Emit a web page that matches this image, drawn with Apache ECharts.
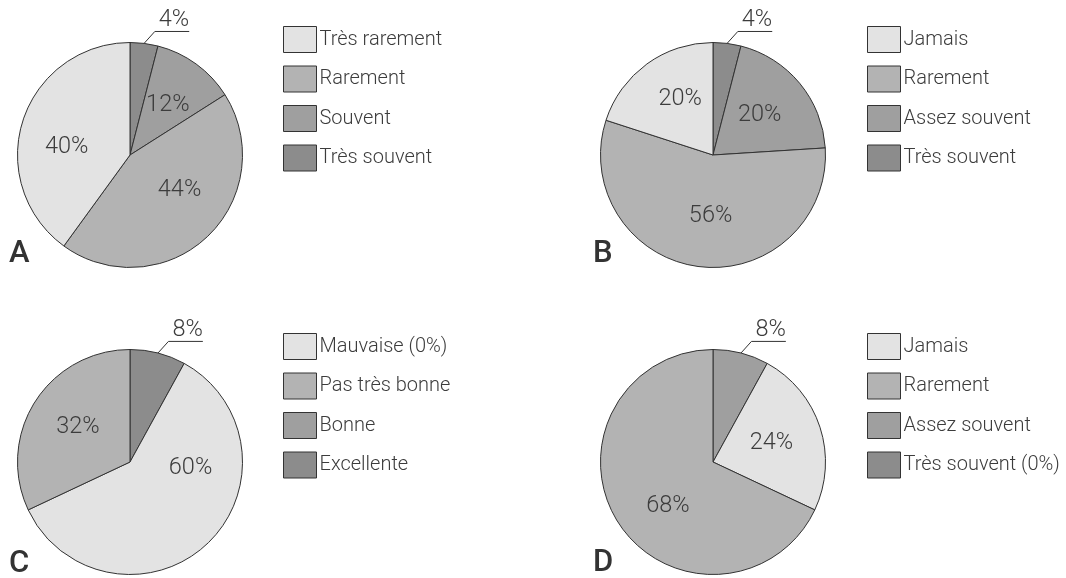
<!DOCTYPE html>
<html>
<head>
<meta charset="utf-8">
<script src="https://cdn.jsdelivr.net/npm/echarts@6/dist/echarts.min.js"></script>
<style>
  html, body { margin: 0; padding: 0; background: #ffffff; }
  #chart { width: 1066px; height: 578px; }
</style>
</head>
<body>
<div id="chart"></div>
<script>
// Panel A: slices listed clockwise from 12 o'clock
const namesA = ['Très souvent', 'Souvent', 'Rarement', 'Très rarement'];
const valuesA = [4, 12, 44, 40];
const legendA = ['Très rarement', 'Rarement', 'Souvent', 'Très souvent'];

// Panel B
const namesB = ['Très souvent', 'Assez souvent', 'Rarement', 'Jamais'];
const valuesB = [4, 20, 56, 20];
const legendB = ['Jamais', 'Rarement', 'Assez souvent', 'Très souvent'];

// Panel C
const namesC = ['Excellente', 'Bonne', 'Pas très bonne', 'Mauvaise (0%)'];
const valuesC = [8, 60, 32, 0];
const legendC = ['Mauvaise (0%)', 'Pas très bonne', 'Bonne', 'Excellente'];

// Panel D
const namesD = ['Assez souvent', 'Jamais', 'Rarement', 'Très souvent (0%)'];
const valuesD = [8, 24, 68, 0];
const legendD = ['Jamais', 'Rarement', 'Assez souvent', 'Très souvent (0%)'];

const panelLetters = ['A', 'B', 'C', 'D'];

// Grey ramp, light to dark, matching legend order
const shades = ['#e3e3e3', '#b3b3b3', '#9f9f9f', '#8c8c8c'];
const edge = '#333333';
const textColor = '#3c3c3c';
const fontFamily = 'Roboto, "Open Sans", sans-serif';

// Shade index used to fill each slice (clockwise order)
const fillA = [3, 2, 1, 0];
const fillB = [3, 2, 1, 0];
const fillC = [3, 0, 1, 0];
const fillD = [2, 0, 1, 3];

// Small nudges for the in-slice percentage labels
const nudgeA = [null, [3, -2], [9, -8], [-7, 10]];
const nudgeB = [null, [1, -2], [5, 2], [2, -8]];
const nudgeC = [null, [20, -37], [-2, -3], null];
const nudgeD = [null, [2, -1], [5, 12], null];

const centers = [[130, 155], [713, 155], [130, 462], [713, 462]];
const legendPos = [[283, 26], [867, 26], [283, 333], [867, 333]];
const letterPos = [[9, 239], [593, 239], [9, 549], [593, 548]];
const radius = 112.5;

// Outside label: short leader, then a rule running under the text
function underlined(params) {
  if (params.dataIndex !== 0 || !params.labelLinePoints) return {};
  const pts = params.labelLinePoints;
  const p0 = pts[0];
  const lineY = pts[1][1];
  const bendX = p0[0] + (p0[1] - lineY) * 0.9;
  const textX = bendX + 4;
  return {
    x: textX,
    y: lineY,
    align: 'left',
    verticalAlign: 'bottom',
    labelLinePoints: [p0, [bendX, lineY], [textX + params.labelRect.width, lineY]]
  };
}

function buildData(names, values, fill, nudge) {
  return names.map(function (n, i) {
    const item = {
      name: n,
      value: values[i],
      itemStyle: { color: shades[fill[i]] }
    };
    if (values[i] === 0) {
      item.label = { show: false };
      item.labelLine = { show: false };
      item.itemStyle.borderWidth = 0;
    } else if (i === 0) {
      item.label = { show: true, position: 'outside', distanceToLabelLine: 0, lineHeight: 22 };
      item.labelLine = {
        show: true, length: 12, length2: 0,
        lineStyle: { color: edge, width: 1 }
      };
    } else if (nudge[i]) {
      item.label = { offset: nudge[i] };
    }
    return item;
  });
}

function pieSeries(idx, names, values, fill, nudge) {
  return {
    type: 'pie',
    center: centers[idx],
    radius: radius,
    startAngle: 90,
    clockwise: true,
    avoidLabelOverlap: false,
    silent: true,
    itemStyle: { borderColor: edge, borderWidth: 1 },
    label: {
      show: true,
      position: 'inside',
      formatter: '{c}%',
      fontFamily: fontFamily,
      fontWeight: 300,
      fontSize: 23.5,
      color: textColor
    },
    labelLine: { show: false },
    labelLayout: underlined,
    emphasis: { disabled: true },
    data: buildData(names, values, fill, nudge)
  };
}

function legendFor(idx, list) {
  return {
    orient: 'vertical',
    left: legendPos[idx][0],
    top: legendPos[idx][1],
    padding: 0,
    icon: 'rect',
    itemWidth: 33,
    itemHeight: 26,
    itemGap: 12.5,
    selectedMode: false,
    itemStyle: { borderColor: edge, borderWidth: 1 },
    textStyle: {
      fontFamily: fontFamily,
      fontWeight: 300,
      fontSize: 20,
      color: textColor,
      padding: [0, 0, 0, -2]
    },
    data: list.map(function (n, i) {
      return { name: n, itemStyle: { color: shades[i] } };
    })
  };
}

const chart = echarts.init(document.getElementById('chart'), null, { renderer: 'canvas' });

chart.setOption({
  backgroundColor: '#ffffff',
  animation: false,
  title: panelLetters.map(function (t, i) {
    return {
      text: t,
      left: letterPos[i][0],
      top: letterPos[i][1],
      padding: 0,
      textStyle: { fontFamily: fontFamily, fontWeight: 500, fontSize: 31, color: '#333333' }
    };
  }),
  legend: [
    legendFor(0, legendA),
    legendFor(1, legendB),
    legendFor(2, legendC),
    legendFor(3, legendD)
  ],
  series: [
    pieSeries(0, namesA, valuesA, fillA, nudgeA),
    pieSeries(1, namesB, valuesB, fillB, nudgeB),
    pieSeries(2, namesC, valuesC, fillC, nudgeC),
    pieSeries(3, namesD, valuesD, fillD, nudgeD)
  ]
});
</script>
</body>
</html>
